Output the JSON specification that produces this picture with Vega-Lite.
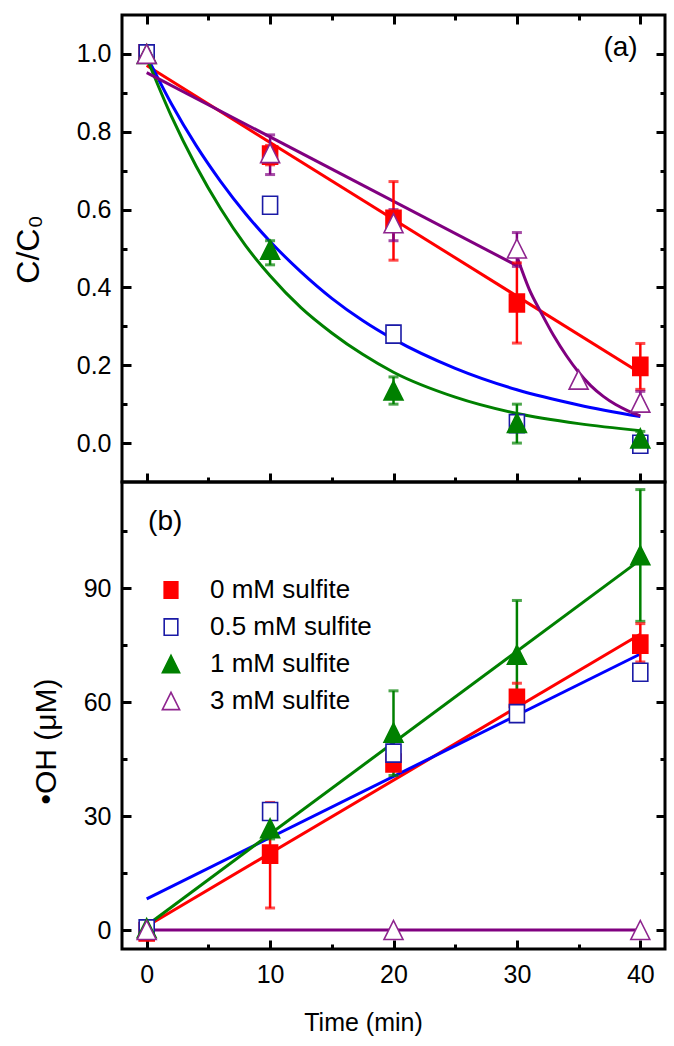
{
  "$schema": "https://vega.github.io/schema/vega-lite/v6.json",
  "padding": {"left": 10, "top": 12, "right": 5, "bottom": 5},
  "spacing": 0,
  "bounds": "flush",
  "config": {
    "font": "Liberation Sans",
    "view": {"stroke": "black", "strokeWidth": 3},
    "axis": {"grid": false, "domain": false, "tickColor": "black", "tickWidth": 3, "labelFont": "Liberation Sans", "labelFontSize": 25, "labelColor": "black", "labelFlush": false, "labelOverlap": false, "titleFont": "Liberation Sans", "titleFontSize": 26, "titleFontWeight": "normal", "titleColor": "black", "minExtent": 0},
    "axisX": {"minExtent": 0},
    "axisY": {"minExtent": 0},
    "legend": {"labelFont": "Liberation Sans", "labelFontSize": 26, "labelColor": "black", "labelLimit": 400, "symbolStrokeWidth": 1.6, "symbolSize": 330, "rowPadding": 11, "labelOffset": 26, "padding": 0}
  },
  "datasets": {
    "fitA": [
      {"series": "0 mM sulfite", "seg": "r", "t": 0, "v": 0.97},
      {"series": "0 mM sulfite", "seg": "r", "t": 40, "v": 0.18},
      {"series": "0.5 mM sulfite", "seg": "b", "t": 0, "v": 0.995},
      {"series": "0.5 mM sulfite", "seg": "b", "t": 2, "v": 0.872},
      {"series": "0.5 mM sulfite", "seg": "b", "t": 4, "v": 0.765},
      {"series": "0.5 mM sulfite", "seg": "b", "t": 6, "v": 0.672},
      {"series": "0.5 mM sulfite", "seg": "b", "t": 8, "v": 0.59},
      {"series": "0.5 mM sulfite", "seg": "b", "t": 10, "v": 0.518},
      {"series": "0.5 mM sulfite", "seg": "b", "t": 12.5, "v": 0.44},
      {"series": "0.5 mM sulfite", "seg": "b", "t": 15, "v": 0.372},
      {"series": "0.5 mM sulfite", "seg": "b", "t": 17.5, "v": 0.315},
      {"series": "0.5 mM sulfite", "seg": "b", "t": 20, "v": 0.267},
      {"series": "0.5 mM sulfite", "seg": "b", "t": 25, "v": 0.192},
      {"series": "0.5 mM sulfite", "seg": "b", "t": 30, "v": 0.137},
      {"series": "0.5 mM sulfite", "seg": "b", "t": 35, "v": 0.098},
      {"series": "0.5 mM sulfite", "seg": "b", "t": 40, "v": 0.068},
      {"series": "1 mM sulfite", "seg": "g", "t": 0, "v": 0.99},
      {"series": "1 mM sulfite", "seg": "g", "t": 2, "v": 0.84},
      {"series": "1 mM sulfite", "seg": "g", "t": 4, "v": 0.712},
      {"series": "1 mM sulfite", "seg": "g", "t": 6, "v": 0.602},
      {"series": "1 mM sulfite", "seg": "g", "t": 8, "v": 0.508},
      {"series": "1 mM sulfite", "seg": "g", "t": 10, "v": 0.43},
      {"series": "1 mM sulfite", "seg": "g", "t": 12.5, "v": 0.348},
      {"series": "1 mM sulfite", "seg": "g", "t": 15, "v": 0.283},
      {"series": "1 mM sulfite", "seg": "g", "t": 17.5, "v": 0.228},
      {"series": "1 mM sulfite", "seg": "g", "t": 20, "v": 0.182},
      {"series": "1 mM sulfite", "seg": "g", "t": 25, "v": 0.118},
      {"series": "1 mM sulfite", "seg": "g", "t": 30, "v": 0.076},
      {"series": "1 mM sulfite", "seg": "g", "t": 35, "v": 0.05},
      {"series": "1 mM sulfite", "seg": "g", "t": 40, "v": 0.032},
      {"series": "3 mM sulfite", "seg": "p1", "t": 0, "v": 0.952},
      {"series": "3 mM sulfite", "seg": "p1", "t": 30, "v": 0.456},
      {"series": "3 mM sulfite", "seg": "p2", "t": 30, "v": 0.48},
      {"series": "3 mM sulfite", "seg": "p2", "t": 31, "v": 0.395},
      {"series": "3 mM sulfite", "seg": "p2", "t": 32, "v": 0.333},
      {"series": "3 mM sulfite", "seg": "p2", "t": 33, "v": 0.275},
      {"series": "3 mM sulfite", "seg": "p2", "t": 34, "v": 0.225},
      {"series": "3 mM sulfite", "seg": "p2", "t": 35, "v": 0.182},
      {"series": "3 mM sulfite", "seg": "p2", "t": 36, "v": 0.147},
      {"series": "3 mM sulfite", "seg": "p2", "t": 37, "v": 0.12},
      {"series": "3 mM sulfite", "seg": "p2", "t": 38, "v": 0.099},
      {"series": "3 mM sulfite", "seg": "p2", "t": 39, "v": 0.083},
      {"series": "3 mM sulfite", "seg": "p2", "t": 40, "v": 0.07}
    ],
    "ptsA": [
      {"series": "0 mM sulfite", "t": 0, "v": 1.0},
      {"series": "0 mM sulfite", "t": 10, "v": 0.74},
      {"series": "0 mM sulfite", "t": 20, "v": 0.575},
      {"series": "0 mM sulfite", "t": 30, "v": 0.36},
      {"series": "0 mM sulfite", "t": 40, "v": 0.197},
      {"series": "0.5 mM sulfite", "t": 0, "v": 1.0},
      {"series": "0.5 mM sulfite", "t": 10, "v": 0.611},
      {"series": "0.5 mM sulfite", "t": 20, "v": 0.28},
      {"series": "0.5 mM sulfite", "t": 30, "v": 0.05},
      {"series": "0.5 mM sulfite", "t": 40, "v": -0.003},
      {"series": "1 mM sulfite", "t": 0, "v": 1.0},
      {"series": "1 mM sulfite", "t": 10, "v": 0.497},
      {"series": "1 mM sulfite", "t": 20, "v": 0.135},
      {"series": "1 mM sulfite", "t": 30, "v": 0.052},
      {"series": "1 mM sulfite", "t": 40, "v": 0.012},
      {"series": "3 mM sulfite", "t": 0, "v": 1.0},
      {"series": "3 mM sulfite", "t": 10, "v": 0.745},
      {"series": "3 mM sulfite", "t": 20, "v": 0.565},
      {"series": "3 mM sulfite", "t": 30, "v": 0.5},
      {"series": "3 mM sulfite", "t": 35, "v": 0.163},
      {"series": "3 mM sulfite", "t": 40, "v": 0.104}
    ],
    "errA": [
      {"series": "0 mM sulfite", "t": 10, "lo": 0.715, "hi": 0.765},
      {"series": "0 mM sulfite", "t": 20, "lo": 0.47, "hi": 0.672},
      {"series": "0 mM sulfite", "t": 30, "lo": 0.257, "hi": 0.463},
      {"series": "0 mM sulfite", "t": 40, "lo": 0.138, "hi": 0.256},
      {"series": "0.5 mM sulfite", "t": 10, "lo": 0.597, "hi": 0.624},
      {"series": "0.5 mM sulfite", "t": 20, "lo": 0.262, "hi": 0.3},
      {"series": "0.5 mM sulfite", "t": 30, "lo": 0.035, "hi": 0.065},
      {"series": "0.5 mM sulfite", "t": 40, "lo": -0.012, "hi": 0.006},
      {"series": "1 mM sulfite", "t": 10, "lo": 0.458, "hi": 0.52},
      {"series": "1 mM sulfite", "t": 20, "lo": 0.1, "hi": 0.17},
      {"series": "1 mM sulfite", "t": 30, "lo": 0.0, "hi": 0.1},
      {"series": "1 mM sulfite", "t": 40, "lo": -0.005, "hi": 0.03},
      {"series": "3 mM sulfite", "t": 10, "lo": 0.69, "hi": 0.792},
      {"series": "3 mM sulfite", "t": 20, "lo": 0.52, "hi": 0.6},
      {"series": "3 mM sulfite", "t": 30, "lo": 0.454, "hi": 0.541},
      {"series": "3 mM sulfite", "t": 40, "lo": 0.09, "hi": 0.133}
    ],
    "fitB": [
      {"series": "0 mM sulfite", "t": 0, "v": 1.0},
      {"series": "0 mM sulfite", "t": 40, "v": 77.9},
      {"series": "0.5 mM sulfite", "t": 0, "v": 8.2},
      {"series": "0.5 mM sulfite", "t": 40, "v": 72.7},
      {"series": "1 mM sulfite", "t": 0, "v": 1.2},
      {"series": "1 mM sulfite", "t": 40, "v": 97.5},
      {"series": "3 mM sulfite", "t": 0, "v": 0},
      {"series": "3 mM sulfite", "t": 40, "v": 0}
    ],
    "ptsB": [
      {"series": "0 mM sulfite", "t": 0, "v": -0.5},
      {"series": "0 mM sulfite", "t": 10, "v": 20},
      {"series": "0 mM sulfite", "t": 20, "v": 44},
      {"series": "0 mM sulfite", "t": 30, "v": 61},
      {"series": "0 mM sulfite", "t": 40, "v": 75.3},
      {"series": "0.5 mM sulfite", "t": 0, "v": 0.3},
      {"series": "0.5 mM sulfite", "t": 10, "v": 31.2},
      {"series": "0.5 mM sulfite", "t": 20, "v": 46.6},
      {"series": "0.5 mM sulfite", "t": 30, "v": 57},
      {"series": "0.5 mM sulfite", "t": 40, "v": 67.9},
      {"series": "1 mM sulfite", "t": 0, "v": 0.5},
      {"series": "1 mM sulfite", "t": 10, "v": 26.8},
      {"series": "1 mM sulfite", "t": 20, "v": 52},
      {"series": "1 mM sulfite", "t": 30, "v": 72.5},
      {"series": "1 mM sulfite", "t": 40, "v": 98.7},
      {"series": "3 mM sulfite", "t": 0, "v": 0},
      {"series": "3 mM sulfite", "t": 20, "v": 0},
      {"series": "3 mM sulfite", "t": 40, "v": 0}
    ],
    "errB": [
      {"series": "0 mM sulfite", "t": 10, "lo": 5.8, "hi": 33.6},
      {"series": "0 mM sulfite", "t": 30, "lo": 57, "hi": 65},
      {"series": "0 mM sulfite", "t": 40, "lo": 70.6, "hi": 80.7},
      {"series": "1 mM sulfite", "t": 10, "lo": 24, "hi": 29.8},
      {"series": "1 mM sulfite", "t": 20, "lo": 40.7, "hi": 63},
      {"series": "1 mM sulfite", "t": 30, "lo": 56.7, "hi": 86.8},
      {"series": "1 mM sulfite", "t": 40, "lo": 81.3, "hi": 116}
    ]
  },
  "vconcat": [
    {
      "width": 543,
      "height": 467,
      "layer": [
        {
          "data": {"name": "fitA"},
          "mark": {"type": "line", "strokeWidth": 3, "interpolate": "monotone"},
          "encoding": {
            "x": {"field": "t", "type": "quantitative", "scale": {"domain": [-2, 42], "nice": false, "zero": false}, "axis": {"orient": "top", "values": [0, 10, 20, 30, 40], "labels": false, "tickSize": -9, "title": null, "minExtent": 0}},
            "y": {"field": "v", "type": "quantitative", "scale": {"domain": [-0.1, 1.1], "nice": false, "zero": false}, "axis": {"orient": "right", "values": [0, 0.2, 0.4, 0.6, 0.8, 1.0], "labels": false, "tickSize": -9, "title": null, "minExtent": 0}},
            "color": {"field": "series", "type": "nominal", "scale": {"range": ["#ff0000", "#0000ff", "#008000", "#800080"]}, "legend": null},
            "detail": {"field": "seg", "type": "nominal"}
          }
        },
        {
          "data": {"name": "errA"},
          "mark": {"type": "rule", "strokeWidth": 2.5},
          "encoding": {
            "x": {"field": "t", "type": "quantitative", "scale": {"domain": [-2, 42], "nice": false, "zero": false}, "axis": {"orient": "bottom", "values": [5, 15, 25, 35], "labels": false, "tickSize": -5, "title": null, "minExtent": 0}},
            "y": {"field": "lo", "type": "quantitative", "scale": {"domain": [-0.1, 1.1], "nice": false, "zero": false}, "axis": {"orient": "left", "values": [0.1, 0.3, 0.5, 0.7, 0.9], "labels": false, "tickSize": -5, "title": null, "minExtent": 0}},
            "y2": {"field": "hi"},
            "color": {"field": "series", "type": "nominal", "scale": {"range": ["#ff0000", "#0000ff", "#008000", "#800080"]}, "legend": null}
          }
        },
        {
          "data": {"name": "errA"},
          "mark": {"type": "tick", "orient": "horizontal", "thickness": 3, "size": 10},
          "encoding": {
            "x": {"field": "t", "type": "quantitative", "scale": {"domain": [-2, 42], "nice": false, "zero": false}, "axis": {"orient": "top", "values": [5, 15, 25, 35], "labels": false, "tickSize": -5, "title": null, "minExtent": 0}},
            "y": {"field": "lo", "type": "quantitative", "scale": {"domain": [-0.1, 1.1], "nice": false, "zero": false}, "axis": {"orient": "right", "values": [0.1, 0.3, 0.5, 0.7, 0.9], "labels": false, "tickSize": -5, "title": null, "minExtent": 0}},
            "color": {"field": "series", "type": "nominal", "scale": {"range": ["#ff0000", "#0000ff", "#008000", "#800080"]}, "legend": null}
          }
        },
        {
          "data": {"name": "errA"},
          "mark": {"type": "tick", "orient": "horizontal", "thickness": 3, "size": 10},
          "encoding": {
            "x": {"field": "t", "type": "quantitative", "scale": {"domain": [-2, 42], "nice": false, "zero": false}, "axis": null},
            "y": {"field": "hi", "type": "quantitative", "scale": {"domain": [-0.1, 1.1], "nice": false, "zero": false}, "axis": null},
            "color": {"field": "series", "type": "nominal", "scale": {"range": ["#ff0000", "#0000ff", "#008000", "#800080"]}, "legend": null}
          }
        },
        {
          "data": {"name": "ptsA"},
          "mark": {"type": "point", "size": 400, "strokeWidth": 1.6, "opacity": 1, "fillOpacity": 1, "strokeOpacity": 1},
          "encoding": {
            "x": {"field": "t", "type": "quantitative", "scale": {"domain": [-2, 42], "nice": false, "zero": false}, "axis": {"orient": "bottom", "values": [0, 10, 20, 30, 40], "labels": false, "tickSize": -9, "title": null, "minExtent": 0}},
            "y": {"field": "v", "type": "quantitative", "scale": {"domain": [-0.1, 1.1], "nice": false, "zero": false}, "axis": {"orient": "left", "values": [0, 0.2, 0.4, 0.6, 0.8, 1.0], "format": ".1f", "tickSize": -9, "labelPadding": 20, "title": "C/C₀", "titleFontSize": 32, "titleBaseline": "alphabetic", "titleX": -84, "titleY": 234, "minExtent": 0}},
            "fill": {"field": "series", "type": "nominal", "scale": {"domain": ["0 mM sulfite", "0.5 mM sulfite", "1 mM sulfite", "3 mM sulfite"], "range": ["#ff0000", "#ffffff", "#008000", "#ffffff"]}, "legend": null},
            "stroke": {"field": "series", "type": "nominal", "scale": {"domain": ["0 mM sulfite", "0.5 mM sulfite", "1 mM sulfite", "3 mM sulfite"], "range": ["#ff0000", "#1a1aa6", "#008000", "#8e248e"]}, "legend": null},
            "shape": {"field": "series", "type": "nominal", "scale": {"domain": ["0 mM sulfite", "0.5 mM sulfite", "1 mM sulfite", "3 mM sulfite"], "range": ["M-0.75,-0.9H0.75V0.9H-0.75Z", "M-0.75,-0.9H0.75V0.9H-0.75Z", "M0,-0.95L0.95,0.95L-0.95,0.95Z", "M0,-0.95L0.95,0.95L-0.95,0.95Z"]}, "legend": null}
          }
        },
        {
          "data": {"values": [{"t": 38.4, "v": 1.015, "label": "(a)"}]},
          "mark": {"type": "text", "fontSize": 28, "font": "Liberation Sans", "color": "black"},
          "encoding": {
            "x": {"field": "t", "type": "quantitative", "scale": {"domain": [-2, 42], "nice": false, "zero": false}, "axis": null},
            "y": {"field": "v", "type": "quantitative", "scale": {"domain": [-0.1, 1.1], "nice": false, "zero": false}, "axis": null},
            "text": {"field": "label", "type": "nominal"}
          }
        }
      ],
      "resolve": {"axis": {"x": "independent", "y": "independent"}}
    },
    {
      "width": 543,
      "height": 467,
      "layer": [
        {
          "data": {"name": "fitB"},
          "mark": {"type": "line", "strokeWidth": 3},
          "encoding": {
            "x": {"field": "t", "type": "quantitative", "scale": {"domain": [-2, 42], "nice": false, "zero": false}, "axis": null},
            "y": {"field": "v", "type": "quantitative", "scale": {"domain": [-5, 118], "nice": false, "zero": false}, "axis": {"orient": "right", "values": [0, 30, 60, 90], "labels": false, "tickSize": -9, "title": null, "minExtent": 0}},
            "color": {"field": "series", "type": "nominal", "scale": {"range": ["#ff0000", "#0000ff", "#008000", "#800080"]}, "legend": null}
          }
        },
        {
          "data": {"name": "errB"},
          "mark": {"type": "rule", "strokeWidth": 2.5},
          "encoding": {
            "x": {"field": "t", "type": "quantitative", "scale": {"domain": [-2, 42], "nice": false, "zero": false}, "axis": {"orient": "bottom", "values": [5, 15, 25, 35], "labels": false, "tickSize": -5, "title": null, "minExtent": 0}},
            "y": {"field": "lo", "type": "quantitative", "scale": {"domain": [-5, 118], "nice": false, "zero": false}, "axis": {"orient": "left", "values": [15, 45, 75, 105], "labels": false, "tickSize": -5, "title": null, "minExtent": 0}},
            "y2": {"field": "hi"},
            "color": {"field": "series", "type": "nominal", "scale": {"range": ["#ff0000", "#0000ff", "#008000", "#800080"]}, "legend": null}
          }
        },
        {
          "data": {"name": "errB"},
          "mark": {"type": "tick", "orient": "horizontal", "thickness": 3, "size": 10},
          "encoding": {
            "x": {"field": "t", "type": "quantitative", "scale": {"domain": [-2, 42], "nice": false, "zero": false}, "axis": null},
            "y": {"field": "lo", "type": "quantitative", "scale": {"domain": [-5, 118], "nice": false, "zero": false}, "axis": {"orient": "right", "values": [15, 45, 75, 105], "labels": false, "tickSize": -5, "title": null, "minExtent": 0}},
            "color": {"field": "series", "type": "nominal", "scale": {"range": ["#ff0000", "#0000ff", "#008000", "#800080"]}, "legend": null}
          }
        },
        {
          "data": {"name": "errB"},
          "mark": {"type": "tick", "orient": "horizontal", "thickness": 3, "size": 10},
          "encoding": {
            "x": {"field": "t", "type": "quantitative", "scale": {"domain": [-2, 42], "nice": false, "zero": false}, "axis": null},
            "y": {"field": "hi", "type": "quantitative", "scale": {"domain": [-5, 118], "nice": false, "zero": false}, "axis": null},
            "color": {"field": "series", "type": "nominal", "scale": {"range": ["#ff0000", "#0000ff", "#008000", "#800080"]}, "legend": null}
          }
        },
        {
          "data": {"name": "ptsB"},
          "mark": {"type": "point", "size": 400, "strokeWidth": 1.6, "opacity": 1, "fillOpacity": 1, "strokeOpacity": 1},
          "encoding": {
            "x": {"field": "t", "type": "quantitative", "scale": {"domain": [-2, 42], "nice": false, "zero": false}, "axis": {"orient": "bottom", "values": [0, 10, 20, 30, 40], "tickSize": -9, "labelPadding": 22, "title": "Time (min)", "titleFontSize": 25, "titleBaseline": "alphabetic", "titleX": 241, "titleY": 81, "minExtent": 0}},
            "y": {"field": "v", "type": "quantitative", "scale": {"domain": [-5, 118], "nice": false, "zero": false}, "axis": {"orient": "left", "values": [0, 30, 60, 90], "tickSize": -9, "labelPadding": 20, "title": "•OH (μM)", "titleFontSize": 30, "titleBaseline": "alphabetic", "titleX": -67, "titleY": 259, "minExtent": 0}},
            "fill": {"field": "series", "type": "nominal", "scale": {"domain": ["0 mM sulfite", "0.5 mM sulfite", "1 mM sulfite", "3 mM sulfite"], "range": ["#ff0000", "#ffffff", "#008000", "#ffffff"]}, "legend": {"orient": "none", "legendX": 36, "legendY": 95, "title": null}},
            "stroke": {"field": "series", "type": "nominal", "scale": {"domain": ["0 mM sulfite", "0.5 mM sulfite", "1 mM sulfite", "3 mM sulfite"], "range": ["#ff0000", "#1a1aa6", "#008000", "#8e248e"]}, "legend": {"orient": "none", "legendX": 36, "legendY": 95, "title": null}},
            "shape": {"field": "series", "type": "nominal", "scale": {"domain": ["0 mM sulfite", "0.5 mM sulfite", "1 mM sulfite", "3 mM sulfite"], "range": ["M-0.75,-0.9H0.75V0.9H-0.75Z", "M-0.75,-0.9H0.75V0.9H-0.75Z", "M0,-0.95L0.95,0.95L-0.95,0.95Z", "M0,-0.95L0.95,0.95L-0.95,0.95Z"]}, "legend": {"orient": "none", "legendX": 36, "legendY": 95, "title": null}}
          }
        },
        {
          "data": {"values": [{"t": 1.5, "v": 107.4, "label": "(b)"}]},
          "mark": {"type": "text", "fontSize": 28, "font": "Liberation Sans", "color": "black"},
          "encoding": {
            "x": {"field": "t", "type": "quantitative", "scale": {"domain": [-2, 42], "nice": false, "zero": false}, "axis": null},
            "y": {"field": "v", "type": "quantitative", "scale": {"domain": [-5, 118], "nice": false, "zero": false}, "axis": null},
            "text": {"field": "label", "type": "nominal"}
          }
        }
      ],
      "resolve": {"axis": {"x": "independent", "y": "independent"}}
    }
  ],
  "resolve": {
    "scale": {"fill": "independent", "stroke": "independent", "shape": "independent", "color": "independent"},
    "legend": {"fill": "independent", "stroke": "independent", "shape": "independent", "color": "independent"}
  }
}
